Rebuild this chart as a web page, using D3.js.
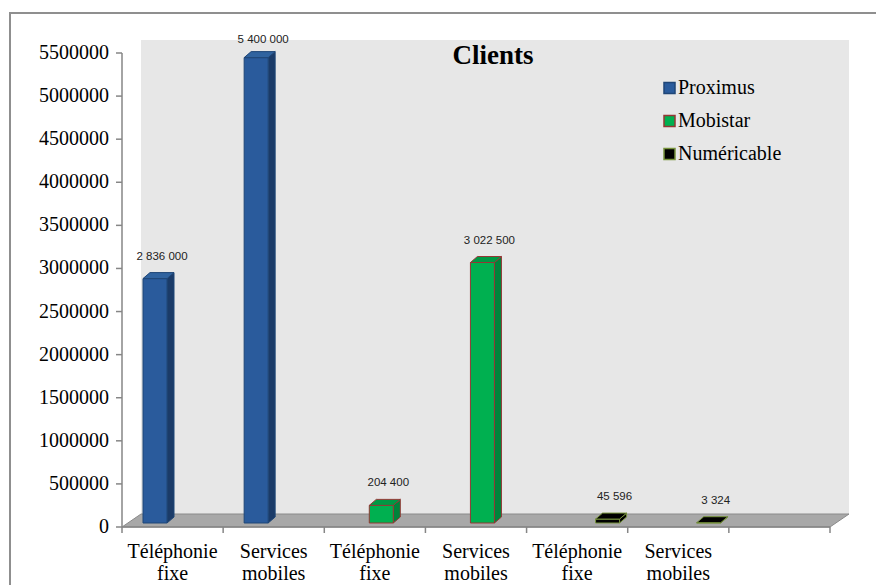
<!DOCTYPE html>
<html>
<head>
<meta charset="utf-8">
<script src="https://cdn.jsdelivr.net/npm/d3@7"></script>
<style>
  body { margin: 0; background: #fff; }
  svg { display: block; }
</style>
</head>
<body>
<div id="chart"></div>
<script>
// categories along the floor (last slot is empty in the original)
var categories = ["Téléphonie fixe", "Services mobiles", "Téléphonie fixe", "Services mobiles", "Téléphonie fixe", "Services mobiles", ""];
var seriesNames = ["Proximus", "Mobistar", "Numéricable"];
var proximus    = [2836000, 5400000, null, null, null, null, null];
var mobistar    = [null, null, 204400, 3022500, null, null, null];
var numericable = [null, null, null, null, 45596, 3324, null];
var yTicks = [0, 500000, 1000000, 1500000, 2000000, 2500000, 3000000, 3500000, 4000000, 4500000, 5000000, 5500000];

var seriesData = [proximus, mobistar, numericable];
var seriesStyle = [
    { front: "#2a5b9c", side: "#1b3b68", top: "#30639f", stroke: "#1f4677" },
    { front: "#00b050", side: "#00843b", top: "#009944", stroke: "#953735" },
    { front: "#000000", side: "#000000", top: "#000000", stroke: "#77933c" }
];

var serif = "'Liberation Serif', 'Times New Roman', serif";
var sans = "'Liberation Sans', Arial, sans-serif";

var W = 876, H = 585;
var svg = d3.select("#chart").append("svg")
    .attr("width", W)
    .attr("height", H);

// frame
svg.append("rect")
    .attr("x", 10).attr("y", 13)
    .attr("width", 900).attr("height", 600)
    .attr("fill", "#fff")
    .attr("stroke", "#8f8f8f")
    .attr("stroke-width", 2);

// plot geometry (front plane)
var pLeft = 122, pRight = 830, pBottom = 527, pTop = 53;
var depthX = 19, depthY = -13;   // floor depth
var barDX = 7, barDY = -6;       // bar depth

var x = d3.scaleBand()
    .domain(d3.range(categories.length))
    .range([pLeft, pRight])
    .paddingInner(0).paddingOuter(0);

var xs = d3.scaleBand()
    .domain(seriesNames)
    .range([21, 93]);

var y = d3.scaleLinear()
    .domain([0, 5500000])
    .range([pBottom, pTop]);

// bars sit slightly back in the depth
var yBar = d3.scaleLinear()
    .domain([0, 5500000])
    .range([pBottom - 4, pTop - 4]);

// back wall
svg.append("rect")
    .attr("x", pLeft + depthX).attr("y", pTop + depthY)
    .attr("width", pRight - pLeft).attr("height", pBottom - pTop)
    .attr("fill", "#e7e7e7");

// floor
svg.append("polygon")
    .attr("points", [[pLeft, pBottom], [pRight, pBottom], [pRight + depthX, pBottom + depthY], [pLeft + depthX, pBottom + depthY]].join(" "))
    .attr("fill", "#a8a8a8")
    .attr("stroke", "#8a8a8a")
    .attr("stroke-width", 1);

// bars
var fmt = d3.formatLocale({ decimal: ",", thousands: " ", grouping: [3], currency: ["", ""] }).format(",d");

var bars = [];
seriesData.forEach(function(vals, si) {
    vals.forEach(function(v, ci) {
        if (v === null) return;
        bars.push({ s: si, c: ci, v: v });
    });
});

var barG = svg.append("g");
bars.forEach(function(d) {
    var st = seriesStyle[d.s];
    var x0 = x(d.c) + xs(seriesNames[d.s]);
    var w = xs.bandwidth();
    var y0 = yBar(0);
    var y1 = yBar(d.v);
    var g = barG.append("g")
        .attr("stroke", st.stroke)
        .attr("stroke-width", 1)
        .attr("stroke-linejoin", "round");
    g.append("polygon")
        .attr("points", [[x0 + w, y1], [x0 + w + barDX, y1 + barDY], [x0 + w + barDX, y0 + barDY], [x0 + w, y0]].join(" "))
        .attr("fill", st.side);
    g.append("rect")
        .attr("x", x0).attr("y", y1)
        .attr("width", w).attr("height", Math.max(0, y0 - y1))
        .attr("fill", st.front);
    g.append("polygon")
        .attr("points", [[x0, y1], [x0 + barDX, y1 + barDY], [x0 + w + barDX, y1 + barDY], [x0 + w, y1]].join(" "))
        .attr("fill", st.top);

    svg.append("text")
        .attr("x", x0 + w / 2 + barDX)
        .attr("y", Math.max(y1 + barDY - 13, 43))
        .attr("text-anchor", "middle")
        .style("font-family", sans)
        .style("font-size", "11.5px")
        .attr("fill", "#222")
        .text(fmt(d.v));
});

// y axis
var axisColor = "#868686";
svg.append("line")
    .attr("x1", pLeft).attr("x2", pLeft)
    .attr("y1", pTop).attr("y2", pBottom)
    .attr("stroke", axisColor).attr("stroke-width", 1.5);
var yAxisG = svg.append("g");
yTicks.forEach(function(t) {
    yAxisG.append("line")
        .attr("x1", pLeft - 6).attr("x2", pLeft)
        .attr("y1", y(t)).attr("y2", y(t))
        .attr("stroke", axisColor).attr("stroke-width", 1.5);
    yAxisG.append("text")
        .attr("x", pLeft - 13)
        .attr("y", y(t) + 6)
        .attr("text-anchor", "end")
        .style("font-family", serif)
        .style("font-size", "20px")
        .text(t);
});

// x axis
svg.append("line")
    .attr("x1", pLeft).attr("x2", pRight)
    .attr("y1", pBottom).attr("y2", pBottom)
    .attr("stroke", axisColor).attr("stroke-width", 1.5);
d3.range(categories.length + 1).forEach(function(i) {
    var tx = pLeft + i * x.step();
    svg.append("line")
        .attr("x1", tx).attr("x2", tx)
        .attr("y1", pBottom).attr("y2", pBottom + 6)
        .attr("stroke", axisColor).attr("stroke-width", 1.5);
});
categories.forEach(function(c, i) {
    var words = c.split(" ");
    var t = svg.append("text")
        .attr("text-anchor", "middle")
        .style("font-family", serif)
        .style("font-size", "20px");
    words.forEach(function(wd, k) {
        t.append("tspan")
            .attr("x", x(i) + x.bandwidth() / 2)
            .attr("y", 558 + k * 22)
            .text(wd);
    });
});

// title
svg.append("text")
    .attr("x", 493).attr("y", 64)
    .attr("text-anchor", "middle")
    .style("font-family", serif)
    .style("font-size", "27px")
    .style("font-weight", "bold")
    .text("Clients");

// legend
var legend = svg.append("g");
seriesNames.forEach(function(n, i) {
    var ly = 88 + i * 33;
    legend.append("rect")
        .attr("x", 664).attr("y", ly - 5.5)
        .attr("width", 11).attr("height", 11)
        .attr("fill", seriesStyle[i].front)
        .attr("stroke", seriesStyle[i].stroke)
        .attr("stroke-width", 1.5);
    legend.append("text")
        .attr("x", 678).attr("y", ly + 6)
        .style("font-family", serif)
        .style("font-size", "20px")
        .text(n);
});
</script>
</body>
</html>
